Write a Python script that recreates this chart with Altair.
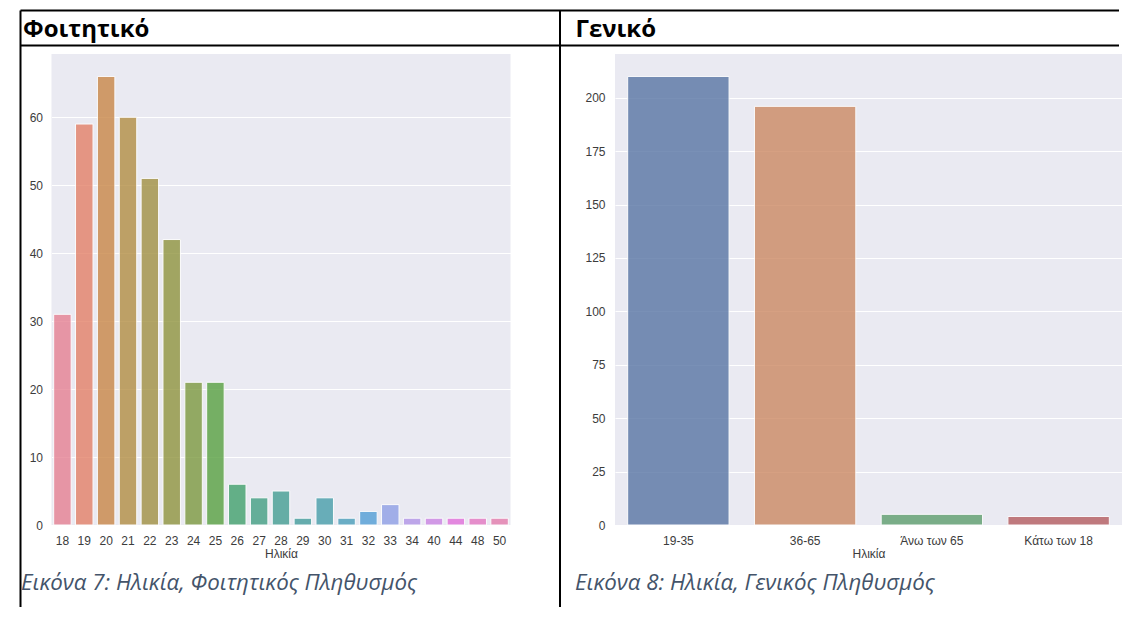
import math
import colorsys
import numpy as np
import pandas as pd
import altair as alt

# ---------------- data ----------------
student_ages = ["18", "19", "20", "21", "22", "23", "24", "25", "26", "27", "28",
                "29", "30", "31", "32", "33", "34", "40", "44", "48", "50"]
student_counts = [31, 59, 66, 60, 51, 42, 21, 21, 6, 4, 5, 1, 4, 1, 2, 3, 1, 1, 1, 1, 1]
student_ticks = [0, 10, 20, 30, 40, 50, 60]

general_groups = ["19-35", "36-65", "Άνω των 65", "Κάτω των 18"]
general_counts = [210, 196, 5, 4]
general_ticks = [0, 25, 50, 75, 100, 125, 150, 175, 200]

x_title = "Ηλικία"
header_left = "Φοιτητικό"
header_right = "Γενικό"
caption_left = "Εικόνα 7: Ηλικία, Φοιτητικός Πληθυσμός"
caption_right = "Εικόνα 8: Ηλικία, Γενικός Πληθυσμός"

# ---------------- colours (seaborn husl / deep, desaturated 0.75) ----------------
M = [[3.2406, -1.5372, -0.4986],
     [-0.9689, 1.8758, 0.0415],
     [0.0557, -0.2040, 1.0570]]
REF_U, REF_V = 0.19784, 0.46834
LAB_E, LAB_K = 0.008856, 903.3


def max_chroma(L, H):
    hrad = math.radians(H)
    sinH, cosH = math.sin(hrad), math.cos(hrad)
    sub1 = (L + 16) ** 3 / 1560896.0
    sub2 = sub1 if sub1 > 0.008856 else L / 903.3
    result = float("inf")
    for m1, m2, m3 in M:
        top = (0.99915 * m1 + 1.05122 * m2 + 1.14460 * m3) * sub2
        rbottom = 0.86330 * m3 - 0.17266 * m2
        lbottom = 0.12949 * m3 - 0.38848 * m1
        bottom = (rbottom * sinH + lbottom * cosH) * sub2
        for t in (0.0, 1.0):
            C = L * (top - 1.05122 * t) / (bottom + 0.17266 * sinH * t)
            if 0.0 < C < result:
                result = C
    return result


def f_inv(t):
    return t ** 3 if t ** 3 > LAB_E else (116.0 * t - 16.0) / LAB_K


def from_linear(c):
    return 12.92 * c if c <= 0.0031308 else 1.055 * c ** (1 / 2.4) - 0.055


def husl_to_rgb(H, S, L):
    C = max_chroma(L, H) / 100.0 * S
    hr = math.radians(H)
    U, V = math.cos(hr) * C, math.sin(hr) * C
    varY = f_inv((L + 16.0) / 116.0)
    varU = U / (13.0 * L) + REF_U
    varV = V / (13.0 * L) + REF_V
    Y = varY
    X = 0.0 - (9.0 * Y * varU) / ((varU - 4.0) * varV - varU * varV)
    Z = (9.0 * Y - 15.0 * varV * Y - varV * X) / (3.0 * varV)
    rgb = [from_linear(r[0] * X + r[1] * Y + r[2] * Z) for r in M]
    return [min(max(c, 0.0), 1.0) for c in rgb]


def desat(rgb, prop=0.75):
    h, l, s = colorsys.rgb_to_hls(*rgb)
    return colorsys.hls_to_rgb(h, l, s * prop)


def to_hex(rgb):
    return "#" + "".join("%02x" % int(round(min(max(c, 0), 1) * 255)) for c in rgb)


def hex_to_rgb(h):
    h = h.lstrip("#")
    return [int(h[i:i + 2], 16) / 255 for i in (0, 2, 4)]


hues = (np.linspace(0, 1, len(student_ages) + 1)[:-1] + 0.01) % 1 * 359
student_colors = [to_hex(desat(husl_to_rgb(h, 0.9 * 99, 0.65 * 99))) for h in hues]
deep = ["#4C72B0", "#DD8452", "#55A868", "#C44E52"]
general_colors = [to_hex(desat(hex_to_rgb(c))) for c in deep]

# ---------------- geometry helpers ----------------
W1, W2, H = 459, 507, 471
FONT_AX = "Liberation Sans"
one = pd.DataFrame({"a": [0]})


def hline(x1, x2, y, w=2):
    return alt.Chart(one).mark_rule(color="black", strokeWidth=w).encode(
        x=alt.value(x1), x2=alt.value(x2), y=alt.value(y))


def vline(x, y1, y2, w=2):
    return alt.Chart(one).mark_rule(color="black", strokeWidth=w).encode(
        x=alt.value(x), y=alt.value(y1), y2=alt.value(y2))


def label(txt, x, y, size, weight="normal", style="normal", color="black"):
    return alt.Chart(pd.DataFrame({"t": [txt]})).mark_text(
        align="left", baseline="alphabetic", font="Open Sans", fontSize=size,
        fontWeight=weight, fontStyle=style, color=color
    ).encode(text="t:N", x=alt.value(x), y=alt.value(y))


TOP_Y, HEAD_Y, BOT_Y = -43.5, -8.5, 553
CAP_COLOR = "#44546A"

# ---------------- left panel ----------------
df1 = pd.DataFrame({"age": student_ages, "count": student_counts})
bars1 = alt.Chart(df1).mark_bar(opacity=0.8, stroke="white", strokeWidth=1).encode(
    x=alt.X("age:N", sort=student_ages, title=x_title,
            scale=alt.Scale(paddingInner=0.2, paddingOuter=0.1)),
    y=alt.Y("count:Q", title=None,
            scale=alt.Scale(domain=[0, 69.3], nice=False, zero=True),
            axis=alt.Axis(values=student_ticks, labelPadding=9)),
    color=alt.Color("age:N", scale=alt.Scale(domain=student_ages, range=student_colors),
                    legend=None),
)
left = alt.layer(
    bars1,
    vline(-31, TOP_Y, BOT_Y),
    hline(-31, 508.5, TOP_Y),
    hline(-31, 508.5, HEAD_Y),
    label(header_left, -28.5, -17, 24, weight="bold"),
    label(caption_left, -30.5, 536, 22.3, style="italic", color=CAP_COLOR),
).properties(width=W1, height=H)

# ---------------- right panel ----------------
df2 = pd.DataFrame({"group": general_groups, "count": general_counts})
bars2 = alt.Chart(df2).mark_bar(opacity=0.8, stroke="white", strokeWidth=1).encode(
    x=alt.X("group:N", sort=general_groups, title=x_title,
            scale=alt.Scale(paddingInner=0.2, paddingOuter=0.1)),
    y=alt.Y("count:Q", title=None,
            scale=alt.Scale(domain=[0, 220.5], nice=False, zero=True),
            axis=alt.Axis(values=general_ticks, labelPadding=10)),
    color=alt.Color("group:N", scale=alt.Scale(domain=general_groups, range=general_colors),
                    legend=None),
)
right = alt.layer(
    bars2,
    vline(-55, TOP_Y, BOT_Y),
    hline(-55, 504, TOP_Y),
    hline(-55, 504, HEAD_Y),
    label(header_right, -39.5, -17, 24, weight="bold"),
    label(caption_right, -40, 536, 22.3, style="italic", color=CAP_COLOR),
).properties(width=W2, height=H)

chart = alt.hconcat(left, right, spacing=104.5, bounds="flush").resolve_scale(
    color="independent"
).properties(
    padding={"left": 11.5, "top": 1, "right": 0, "bottom": 0},
    background="white",
).configure_view(fill="#EAEAF2", strokeWidth=0).configure_axis(
    domain=False, ticks=False, labelFont=FONT_AX, labelFontSize=12, labelColor="#3c3c3c",
    titleFont=FONT_AX, titleFontSize=12, titleFontWeight="normal", titleColor="#3c3c3c",
    gridColor="white", gridWidth=1.2,
).configure_axisX(grid=False, labelAngle=0, labelPadding=10, titlePadding=2)

chart.save("out.html", embed_options={"renderer": "svg", "actions": False})
